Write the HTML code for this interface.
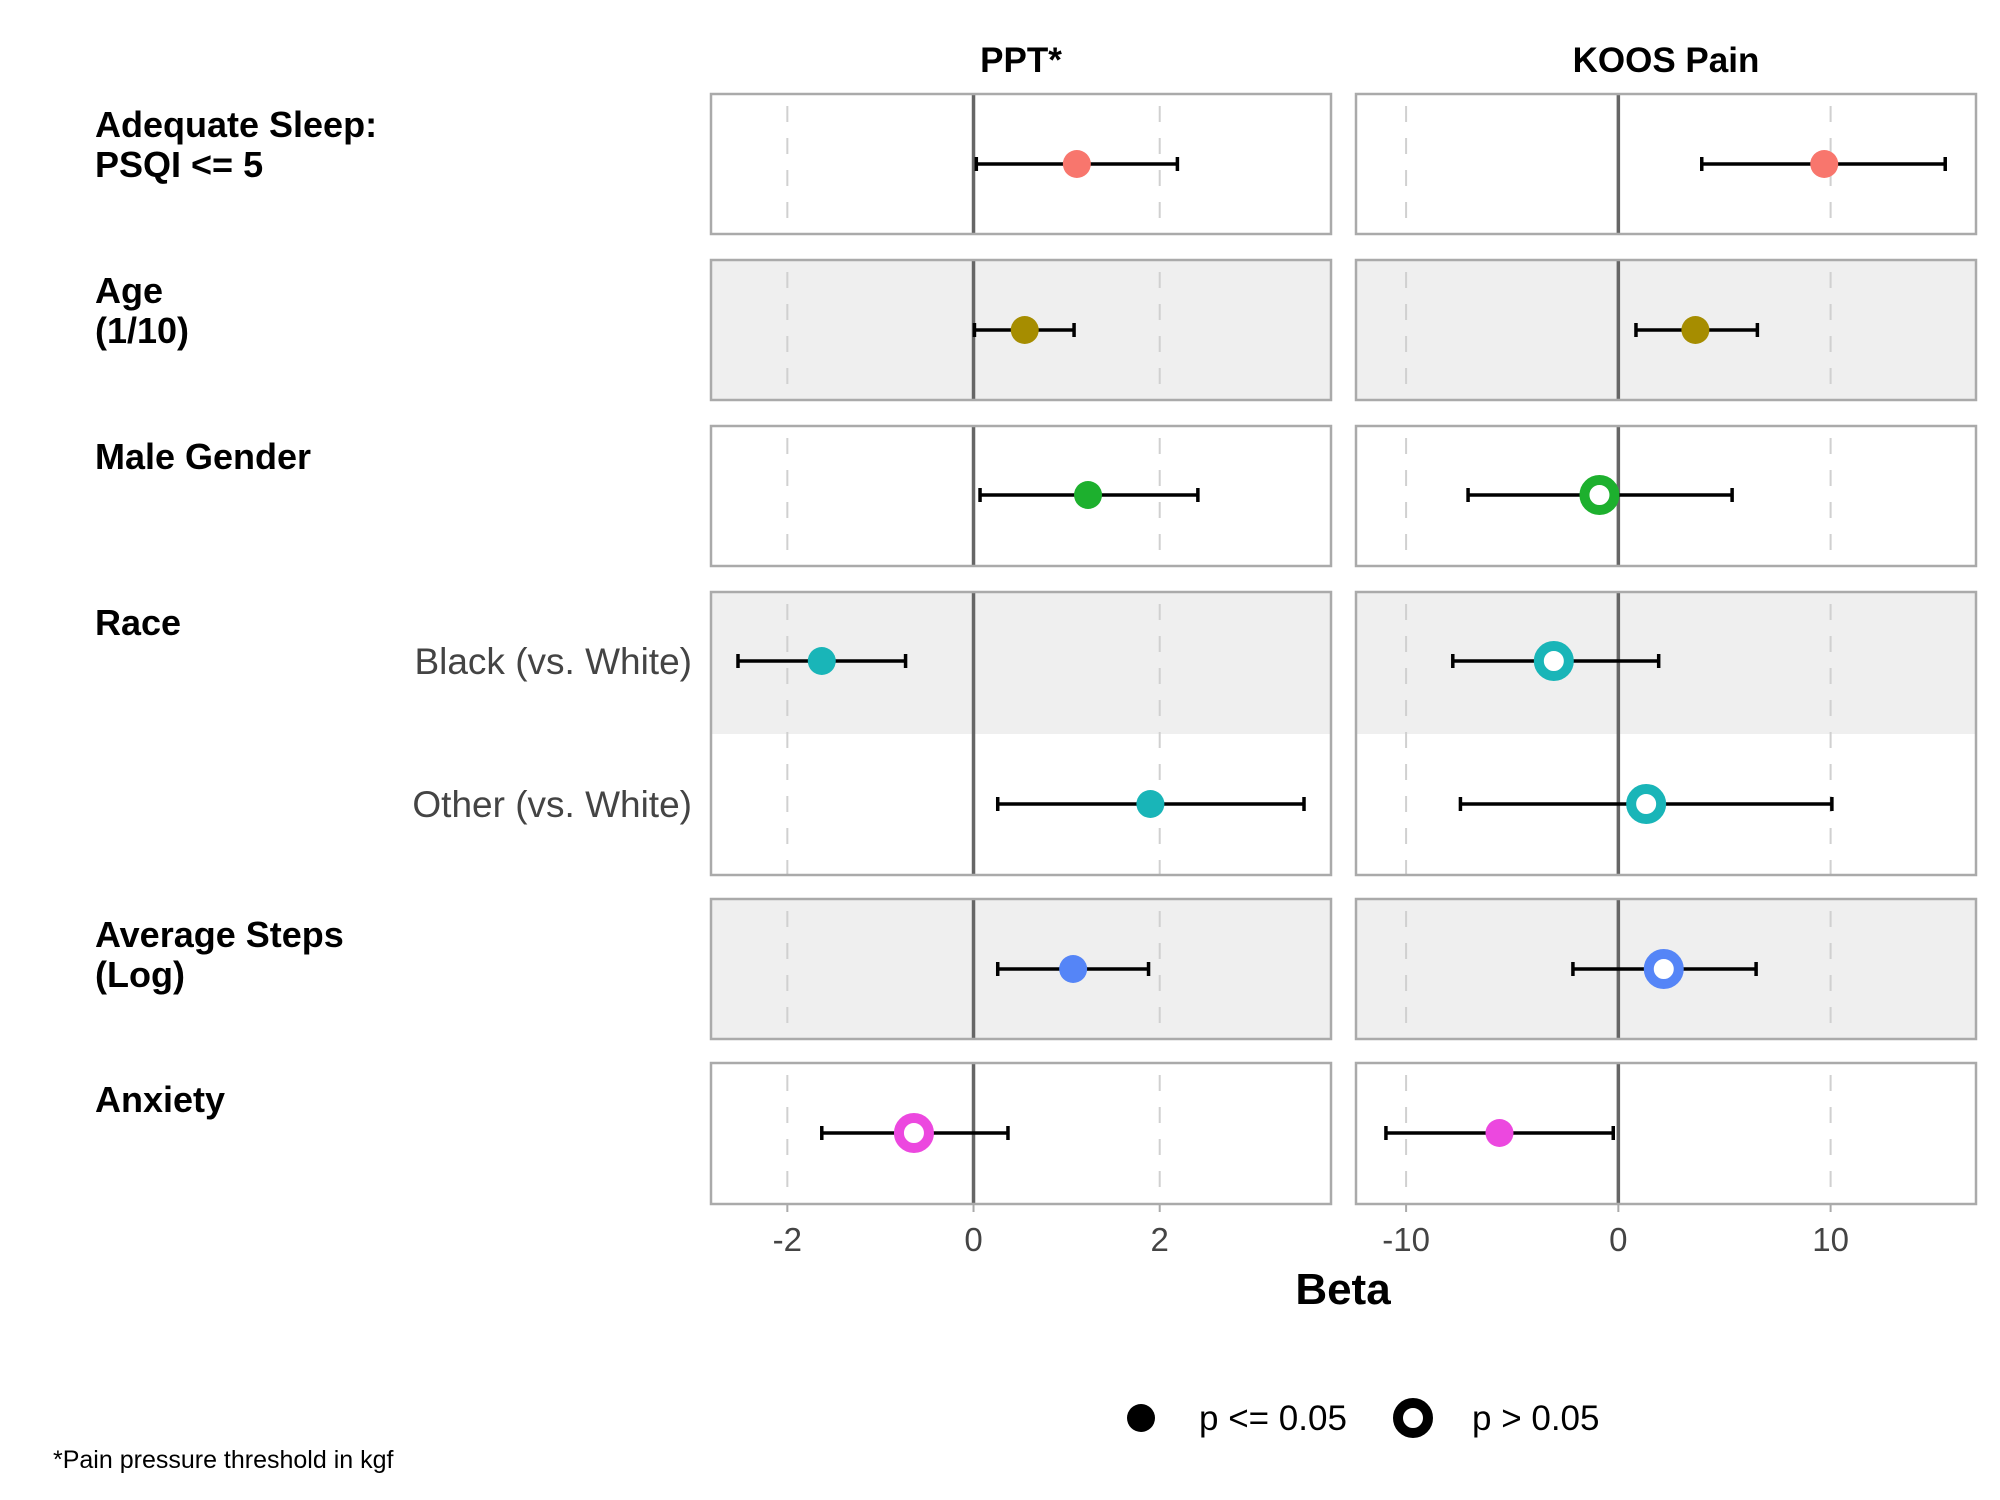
<!DOCTYPE html>
<html><head><meta charset="utf-8"><style>
html,body{margin:0;padding:0;background:#fff;}
svg{display:block;font-family:"Liberation Sans",Arial,sans-serif;}
</style></head><body>
<svg id="chart" width="2000" height="1500" viewBox="0 0 2000 1500" xmlns="http://www.w3.org/2000/svg">
<g id="bg"></g>
<g id="marks"></g>
<g id="labels">
<text x="1021" y="72" font-size="35" font-weight="bold" text-anchor="middle">PPT*</text>
<text x="1666" y="72" font-size="35" font-weight="bold" text-anchor="middle">KOOS Pain</text>
<text font-size="36" font-weight="bold"><tspan x="95" y="137">Adequate Sleep:</tspan><tspan x="95" y="177">PSQI &lt;= 5</tspan></text>
<text font-size="36" font-weight="bold"><tspan x="95" y="303">Age</tspan><tspan x="95" y="343">(1/10)</tspan></text>
<text x="95" y="469" font-size="36" font-weight="bold">Male Gender</text>
<text x="95" y="635" font-size="36" font-weight="bold">Race</text>
<text x="692" y="674" font-size="37" fill="#444" text-anchor="end">Black (vs. White)</text>
<text x="692" y="817" font-size="37" fill="#444" text-anchor="end">Other (vs. White)</text>
<text font-size="36" font-weight="bold"><tspan x="95" y="947">Average Steps</tspan><tspan x="95" y="987">(Log)</tspan></text>
<text x="95" y="1112" font-size="36" font-weight="bold">Anxiety</text>
<text x="1343" y="1304" font-size="44" font-weight="bold" text-anchor="middle">Beta</text>
<circle cx="1141" cy="1418" r="14" fill="#000"/>
<text x="1199" y="1430" font-size="35">p &lt;= 0.05</text>
<circle cx="1413" cy="1418" r="15" fill="none" stroke="#000" stroke-width="10"/>
<text x="1472" y="1430" font-size="35">p &gt; 0.05</text>
<text x="53" y="1468" font-size="25">*Pain pressure threshold in kgf</text>
</g>
</svg>
<script>
const rowNames = ["sleep","age","gender","black","other","steps","anxiety"];
const colors = ["#F8766D","#A68D00","#1DB02E","#19B5B8","#19B5B8","#5585F7","#EC48DF"];
const pptEst = [1.11,0.55,1.23,-1.63,1.90,1.07,-0.64];
const pptLo  = [0.03,0.01,0.07,-2.53,0.26,0.26,-1.63];
const pptHi  = [2.19,1.08,2.41,-0.73,3.55,1.88,0.37];
const pptSig = [1,1,1,1,1,1,0];
const koosEst = [9.7,3.63,-0.89,-3.04,1.31,2.14,-5.6];
const koosLo  = [3.93,0.83,-7.08,-7.8,-7.44,-2.14,-10.95];
const koosHi  = [15.4,6.55,5.36,1.9,10.06,6.49,-0.24];
const koosSig = [1,1,0,0,0,0,1];
const pptTicks = [-2,0,2];
const koosTicks = [-10,0,10];

const NS="http://www.w3.org/2000/svg";
function mk(tag,attrs,parent){const e=document.createElementNS(NS,tag);for(const k in attrs)e.setAttribute(k,attrs[k]);parent.appendChild(e);return e;}
const bg=document.getElementById('bg'), marks=document.getElementById('marks');
const panels=[
 {name:'ppt',x0:711,x1:1331,dmin:-2.82,dmax:3.84,est:pptEst,lo:pptLo,hi:pptHi,sig:pptSig,ticks:pptTicks},
 {name:'koos',x0:1356,x1:1976,dmin:-12.36,dmax:16.85,est:koosEst,lo:koosLo,hi:koosHi,sig:koosSig,ticks:koosTicks}
];
const strips=[[94,234,0],[260,400,1],[426,566,0],[592,875,2],[899,1039,1],[1063,1204,0]];
const rowY=[164,330,495,661,804,969,1133];
panels.forEach(p=>{
  const sx=v=>p.x0+(v-p.dmin)/(p.dmax-p.dmin)*(p.x1-p.x0);
  strips.forEach(s=>{
    const [t,b,sh]=s;
    if(sh===1){const r=mk('rect',{x:p.x0,y:t,width:p.x1-p.x0,height:b-t,fill:'#efefef'},bg);
      }
    if(sh===2){const r=mk('rect',{x:p.x0,y:t,width:p.x1-p.x0,height:142,fill:'#efefef'},bg);
      }
    p.ticks.forEach(tv=>{
      if(tv===0){const l=mk('line',{x1:sx(tv),x2:sx(tv),y1:t,y2:b,stroke:'#666','stroke-width':3.5},bg);
        }
      else{const l=mk('line',{x1:sx(tv),x2:sx(tv),y1:t,y2:b,stroke:'#d0d0d0','stroke-width':2,'stroke-dasharray':'16 16','stroke-dashoffset':'-12'},bg);
        }
    });
    const fr=mk('rect',{x:p.x0,y:t,width:p.x1-p.x0,height:b-t,fill:'none',stroke:'#aaa','stroke-width':2.5},bg);
    
  });
  p.ticks.forEach(tv=>{
    const tk=mk('line',{x1:sx(tv),x2:sx(tv),y1:1204,y2:1212,stroke:'#aaa','stroke-width':2},bg);
    
    const tx=mk('text',{x:sx(tv),y:1251,'font-size':33,fill:'#444','text-anchor':'middle'},bg);
    tx.textContent=String(tv);
    
  });
  rowNames.forEach((rn,i)=>{
    const y=rowY[i];
    const g=mk('g',{},marks);
    
    
    mk('line',{x1:sx(p.lo[i]),x2:sx(p.hi[i]),y1:y,y2:y,stroke:'#000','stroke-width':3.5},g);
    mk('line',{x1:sx(p.lo[i]),x2:sx(p.lo[i]),y1:y-7,y2:y+7,stroke:'#000','stroke-width':3.5},g);
    mk('line',{x1:sx(p.hi[i]),x2:sx(p.hi[i]),y1:y-7,y2:y+7,stroke:'#000','stroke-width':3.5},g);
    if(p.sig[i]) mk('circle',{cx:sx(p.est[i]),cy:y,r:14,fill:colors[i]},g);
    else mk('circle',{cx:sx(p.est[i]),cy:y,r:15,fill:'#fff',stroke:colors[i],'stroke-width':10},g);
  });
});
</script>
</body></html>
